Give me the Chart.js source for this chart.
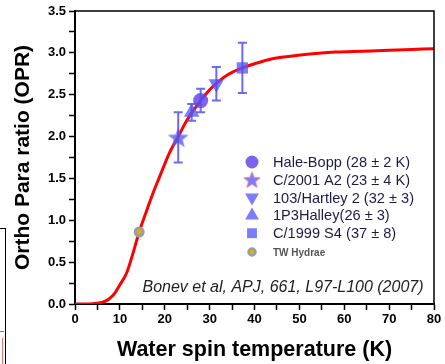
<!DOCTYPE html>
<html>
<head>
<meta charset="utf-8">
<script src="https://cdn.jsdelivr.net/npm/chart.js@4.4.1/dist/chart.umd.min.js"></script>
<style>
  body { margin: 0; background: #fff; }
  #wrap { position: relative; width: 445px; height: 364px; overflow: hidden; }
  #frag { position: absolute; left: 0; top: 228px; width: 5px; height: 140px;
          border-top: 1.5px solid #000; border-right: 1.5px solid #000; }
  #fragBlue { position: absolute; left: 0; top: 331px; width: 4px; height: 1px; background: #6b6bf0; }
  #fragRed { position: absolute; left: 2px; top: 338px; width: 1px; height: 26px; background: #f07070; }
</style>
</head>
<body>
<div id="wrap">
  <canvas id="oprChart" width="445" height="364"></canvas>
  <div id="frag"></div>
  <div id="fragBlue"></div>
  <div id="fragRed"></div>
</div>
<script>
// theoretical OPR curve
const curveT   = [0, 2, 4, 5, 6, 7, 8, 9, 10, 11.5, 13, 14.3, 16, 17.5, 19, 21, 23, 25, 28, 30, 32, 34.4, 37.3, 40, 44, 48, 53, 58, 64, 70, 75, 80];
const curveOPR = [0, 0, 0.003, 0.01, 0.02, 0.04, 0.08, 0.14, 0.23, 0.37, 0.62, 0.86, 1.12, 1.34, 1.54, 1.80, 2.0, 2.2, 2.43, 2.56, 2.66, 2.75, 2.82, 2.87, 2.93, 2.96, 2.99, 3.01, 3.02, 3.03, 3.04, 3.05];

// comet measurements
const cometNames  = ['Hale-Bopp (28 \u00b1 2 K)', 'C/2001 A2 (23 \u00b1 4 K)', '103/Hartley 2 (32 \u00b1 3)', '1P3Halley(26 \u00b1 3)', 'C/1999 S4 (37 \u00b1 8)'];
const cometT      = [28, 23, 31.5, 26, 37.3];
const cometOPR    = [2.43, 1.99, 2.63, 2.29, 2.82];
const cometErr    = [0.14, 0.30, 0.20, 0.10, 0.30];

// disk measurement
const hydraeName = 'TW Hydrae';
const hydraeT    = [14.3];
const hydraeOPR  = [0.86];

const xTickLabels = ['0', '10', '20', '30', '40', '50', '60', '70', '80'];
const yTickLabels = ['0.0', '0.5', '1.0', '1.5', '2.0', '2.5', '3.0', '3.5'];

const blue = 'rgba(88, 88, 250, 0.78)';
const purple = 'rgba(100, 72, 232, 0.85)';
const barBlue = 'rgba(80, 80, 240, 0.85)';

// five pointed star, Chart.js has no such point style
function makeStar(r, stroke) {
    const c = document.createElement('canvas');
    const s = Math.ceil(r * 2 + 4);
    c.width = s; c.height = s;
    const g = c.getContext('2d');
    g.beginPath();
    for (let i = 0; i < 10; i++) {
        const rad = i % 2 === 0 ? r : r * 0.42;
        const a = -Math.PI / 2 + i * Math.PI / 5;
        g.lineTo(s / 2 + rad * Math.cos(a), s / 2 + rad * Math.sin(a) + r * 0.08);
    }
    g.closePath();
    g.fillStyle = blue;
    g.fill();
    if (stroke) {
        g.strokeStyle = stroke;
        g.lineWidth = 0.8;
        g.stroke();
    }
    return c;
}
const bigStar = makeStar(11);
const smallStar = makeStar(8.5, 'rgba(230, 70, 100, 0.8)');

const styles = [
    { pointStyle: 'circle', radius: 7.5, rotation: 0, color: purple },
    { pointStyle: bigStar, radius: 11, rotation: 0, color: blue },
    { pointStyle: 'triangle', radius: 9, rotation: 180, color: blue },
    { pointStyle: 'triangle', radius: 9, rotation: 0, color: blue },
    { pointStyle: 'rect', radius: 8, rotation: 0, color: blue }
];
const legendStyles = [
    { pointStyle: 'circle', radius: 6.5, rotation: 0 },
    { pointStyle: smallStar, radius: 8.5, rotation: 0 },
    { pointStyle: 'triangle', radius: 8, rotation: 180 },
    { pointStyle: 'triangle', radius: 8, rotation: 0 },
    { pointStyle: 'rect', radius: 7, rotation: 0 }
];

const datasets = cometNames.map((name, i) => ({
    label: name,
    data: [{ x: cometT[i], y: cometOPR[i] }],
    pointStyle: styles[i].pointStyle,
    pointRadius: styles[i].radius,
    rotation: styles[i].rotation,
    backgroundColor: styles[i].color,
    borderColor: styles[i].color,
    borderWidth: 0,
    showLine: false
}));
datasets.push({
    label: hydraeName,
    data: hydraeT.map((t, i) => ({ x: t, y: hydraeOPR[i] })),
    pointStyle: 'circle',
    pointRadius: 4,
    backgroundColor: '#f0a800',
    borderColor: '#8fa2aa',
    borderWidth: 3,
    showLine: false
});
datasets.push({
    label: 'theory',
    data: curveT.map((t, i) => ({ x: t, y: curveOPR[i] })),
    borderColor: '#ff0000',
    borderWidth: 3,
    pointRadius: 0,
    showLine: true,
    tension: 0.4,
    cubicInterpolationMode: 'monotone',
    fill: false
});

// error bars drawn through the scales
const errorBars = {
    id: 'errorBars',
    afterDatasetsDraw(chart) {
        const ctx = chart.ctx;
        const xs = chart.scales.x, ys = chart.scales.y;
        ctx.save();
        ctx.strokeStyle = barBlue;
        ctx.lineWidth = 2;
        cometNames.forEach((n, i) => {
            const px = xs.getPixelForValue(cometT[i]);
            const top = ys.getPixelForValue(cometOPR[i] + cometErr[i]);
            const bot = ys.getPixelForValue(cometOPR[i] - cometErr[i]);
            ctx.beginPath();
            ctx.moveTo(px, top); ctx.lineTo(px, bot);
            ctx.moveTo(px - 4.5, top); ctx.lineTo(px + 4.5, top);
            ctx.moveTo(px - 4.5, bot); ctx.lineTo(px + 4.5, bot);
            ctx.stroke();
        });
        ctx.restore();
    }
};

// box round the plot, legend and citation
const decorations = {
    id: 'decorations',
    afterDraw(chart) {
        const ctx = chart.ctx;
        const a = chart.chartArea;
        ctx.save();
        ctx.strokeStyle = '#000';
        ctx.lineWidth = 1.5;
        ctx.beginPath();
        ctx.moveTo(a.left, a.top); ctx.lineTo(a.right, a.top); ctx.lineTo(a.right, a.bottom);
        ctx.stroke();

        // legend
        const mx = a.left + 177, tx = a.left + 198;
        let y = a.top + 151;
        ctx.textBaseline = 'middle';
        ctx.textAlign = 'left';
        cometNames.forEach((name, i) => {
            const st = legendStyles[i];
            ctx.fillStyle = styles[i].color;
            if (typeof st.pointStyle === 'string') {
                Chart.helpers.drawPoint(ctx, { pointStyle: st.pointStyle, radius: st.radius, rotation: st.rotation, borderWidth: 0 }, mx, y);
            } else {
                ctx.drawImage(st.pointStyle, mx - st.pointStyle.width / 2, y - st.pointStyle.height / 2);
            }
            ctx.fillStyle = '#1e1a48';
            ctx.font = '14.6px "Liberation Sans", Arial, sans-serif';
            ctx.fillText(name, tx, y + 1);
            y += 17.8;
        });
        ctx.beginPath();
        ctx.arc(mx, y + 1, 3.5, 0, Math.PI * 2);
        ctx.fillStyle = '#f0a800';
        ctx.fill();
        ctx.lineWidth = 2.5;
        ctx.strokeStyle = '#8fa2aa';
        ctx.stroke();
        ctx.fillStyle = '#555';
        ctx.font = 'bold 10px "Liberation Sans", Arial, sans-serif';
        ctx.fillText(hydraeName, tx, y + 2);

        // citation
        ctx.fillStyle = '#222';
        ctx.font = 'italic 16px "Liberation Sans", Arial, sans-serif';
        ctx.textAlign = 'center';
        ctx.textBaseline = 'alphabetic';
        ctx.fillText('Bonev et al, APJ, 661, L97-L100 (2007)', a.left + 208, a.bottom - 12);
        ctx.restore();
    }
};

Chart.defaults.font.family = '"Liberation Sans", Arial, sans-serif';
Chart.defaults.color = '#000';

const ctx = document.getElementById('oprChart').getContext('2d');
window.oprChart = new Chart(ctx, {
    type: 'scatter',
    data: { datasets: datasets },
    options: {
        responsive: false,
        animation: false,
        layout: { padding: { top: 11, right: 10, left: 0, bottom: 0 } },
        plugins: { legend: { display: false }, tooltip: { enabled: false } },
        scales: {
            x: {
                type: 'linear', min: 0, max: 80,
                afterFit(scale) { scale.height = 60; },
                ticks: {
                    stepSize: 5, autoSkip: false, maxRotation: 0, padding: 2,
                    font: { size: 13, weight: 'bold' },
                    callback: v => (v % 10 === 0 ? xTickLabels[v / 10] : '')
                },
                grid: { drawOnChartArea: false, tickLength: 6, color: '#000', tickWidth: 1.5 },
                border: { display: true, color: '#000', width: 2 },
                title: {
                    display: true, text: 'Water spin temperature (K)',
                    font: { size: 21.5, weight: 'bold' }, padding: { top: 6, bottom: 1 }
                }
            },
            y: {
                type: 'linear', min: 0, max: 3.5,
                afterFit(scale) { scale.width = 75; },
                ticks: {
                    stepSize: 0.25, autoSkip: false, padding: 3,
                    font: { size: 13, weight: 'bold' },
                    callback: v => (Math.abs(v * 2 - Math.round(v * 2)) < 1e-6 ? yTickLabels[Math.round(v * 2)] : '')
                },
                grid: { drawOnChartArea: false, tickLength: 6, color: '#000', tickWidth: 1.5 },
                border: { display: true, color: '#000', width: 2 },
                title: {
                    display: true, text: 'Ortho Para ratio (OPR)',
                    font: { size: 21, weight: 'bold' }, padding: { top: 11, bottom: 4 }
                }
            }
        }
    },
    plugins: [errorBars, decorations]
});
</script>
</body>
</html>
